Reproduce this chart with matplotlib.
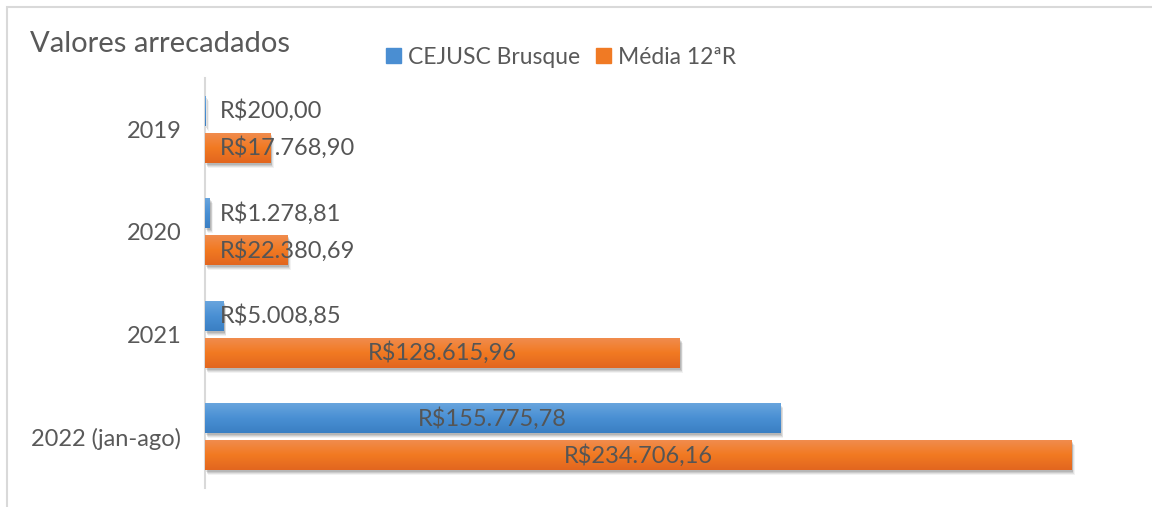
import matplotlib
matplotlib.use('Agg')
import matplotlib.pyplot as plt
import matplotlib.transforms as mtransforms
import numpy as np
from matplotlib.colors import LinearSegmentedColormap
from matplotlib.patches import Patch, Rectangle

# dados do gráfico
anos = ['2019', '2020', '2021', '2022 (jan-ago)']
cejusc = [200.00, 1278.81, 5008.85, 155775.78]
media = [17768.90, 22380.69, 128615.96, 234706.16]
series = ['CEJUSC Brusque', 'Média 12ªR']

plt.rcParams['font.family'] = ['Lato', 'DejaVu Sans']

cinza = '#595959'
azul = '#4a8ed2'
laranja = '#f07a24'
grad_azul = LinearSegmentedColormap.from_list('az', ['#6aa6de', '#4a90d4', '#3a7fc3'])
grad_laranja = LinearSegmentedColormap.from_list('la', ['#f08d50', '#f27a22', '#e2661f'])


# formata valor em reais (R$1.234,56)
def moeda(v):
    s = f'{v:,.2f}'
    return 'R$' + s.replace(',', 'X').replace('.', ',').replace('X', '.')


fig = plt.figure(figsize=(11.52, 5.07), dpi=100)
ax = fig.add_axes([205 / 1152, 19 / 507, 923 / 1152, 410 / 507])

y = np.arange(len(anos))
h = 0.293
desloc = 0.18
grad = np.linspace(0, 1, 64).reshape(-1, 1)

for valores, pos, cmap, cor in [(cejusc, y - desloc, grad_azul, azul),
                                (media, y + desloc, grad_laranja, laranja)]:
    # sombra difusa abaixo das barras
    for k, a in [(5, 0.05), (4, 0.07), (3, 0.09), (2, 0.1)]:
        off = mtransforms.ScaledTranslation(k * 0.6 / 100, -k / 100, fig.dpi_scale_trans)
        ax.barh(pos, valores, height=h, color='black', alpha=a, linewidth=0,
                transform=ax.transData + off, zorder=1)
    barras = ax.barh(pos, valores, height=h, color=cor, linewidth=0, zorder=2)
    # gradiente vertical em cada barra
    for b, v, p in zip(barras, valores, pos):
        im = ax.imshow(grad, cmap=cmap, aspect='auto', zorder=3,
                       extent=[0, v, p + h / 2, p - h / 2], interpolation='bilinear')
        im.set_clip_path(b)
    # rótulos de valor
    for v, p in zip(valores, pos):
        if v < 50000:
            ax.annotate(moeda(v), (0, p), xytext=(15, 0), textcoords='offset pixels',
                        ha='left', va='center', fontsize=17, color='#555555', zorder=5)
        else:
            ax.text(v / 2, p, moeda(v), ha='center', va='center',
                    fontsize=17, color='#555555', zorder=5)

ax.set_xlim(0, 250000)
ax.set_ylim(3.5, -0.5)
ax.set_xticks([])
ax.set_yticks(y, anos)
ax.tick_params(axis='y', length=0, pad=17, labelsize=17, labelcolor=cinza)
for lado in ['top', 'right', 'bottom']:
    ax.spines[lado].set_visible(False)
ax.spines['left'].set_color('#d9d9d9')
ax.spines['left'].set_linewidth(1.5)

# título e legenda
fig.text(30 / 1152, 1 - 52 / 507, 'Valores arrecadados', fontsize=21, color=cinza,
         va='baseline', ha='left')
handles = [Patch(color=azul), Patch(color=laranja)]
fig.legend(handles, series, loc='center', bbox_to_anchor=(561 / 1152, 1 - 57 / 507),
           ncol=2, frameon=False, fontsize=16.5, labelcolor=cinza,
           handlelength=0.65, handleheight=0.65, handletextpad=0.3, columnspacing=0.7)

# moldura do gráfico
fig.patches.append(Rectangle((7 / 1152, -0.1), 1.2, 1 - 7 / 507 + 0.1,
                             transform=fig.transFigure, fill=False,
                             edgecolor='#d9d9d9', linewidth=1.5))

fig.savefig('out.png', dpi=100)
